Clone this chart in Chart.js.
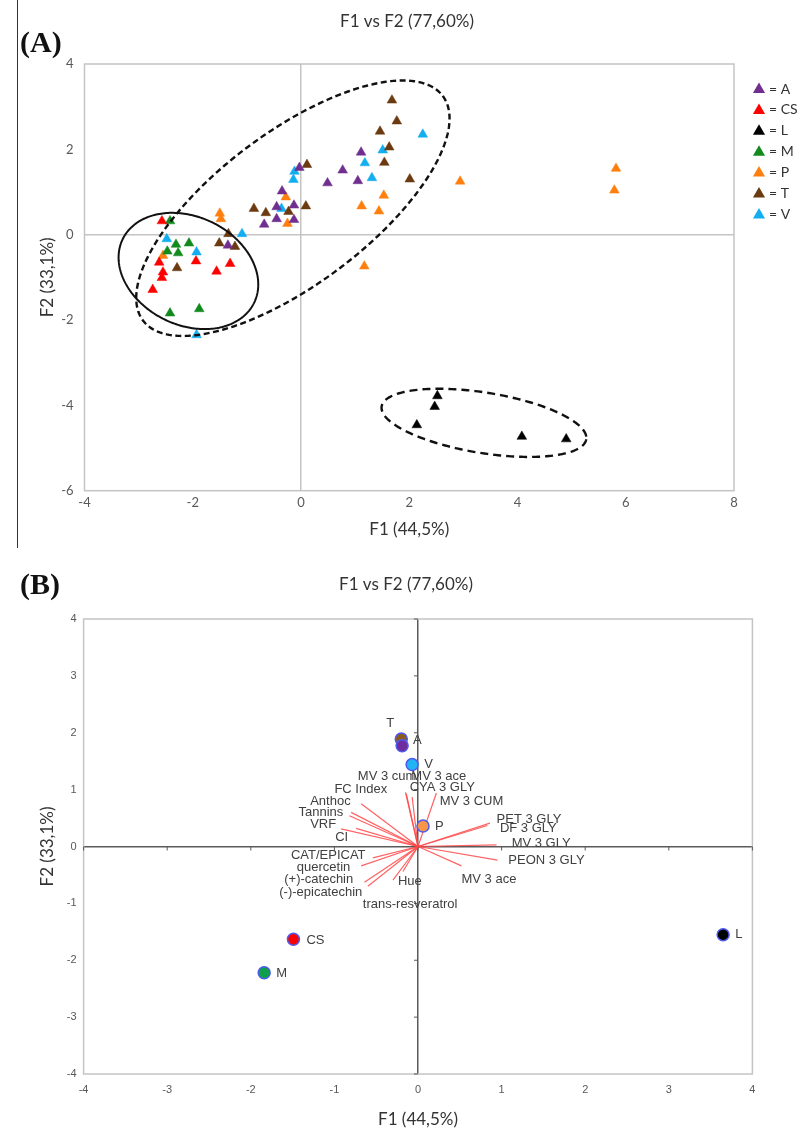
<!DOCTYPE html>
<html>
<head>
<meta charset="utf-8">
<script src="https://cdn.jsdelivr.net/npm/chart.js"></script>
<style>
  body { margin: 0; background: #fff; width: 803px; height: 1135px; position: relative; overflow: hidden; }
  #wrapA { position: absolute; left: 0; top: 0; width: 803px; height: 552px; }
  #wrapB { position: absolute; left: 0; top: 555px; width: 803px; height: 580px; }
  .tag { position: absolute; font-family: 'Liberation Serif', serif; font-weight: bold; font-size: 30px; color: #111; line-height: 34px; }
  #rule { position: absolute; left: 17px; top: 0; width: 1px; height: 548px; background: #333; }
</style>
</head>
<body>
<div id="rule"></div>
<div id="wrapA"><canvas id="scoresChart" width="803" height="552"></canvas></div>
<div id="wrapB"><canvas id="biplotChart" width="803" height="580"></canvas></div>
<div class="tag" style="left:20px; top:25px;">(A)</div>
<div class="tag" style="left:20px; top:567px;">(B)</div>

<script>
// Panel A: PCA scores of each wine sample, grouped by cultivar
const cultivars = ['A', 'CS', 'L', 'M', 'P', 'T', 'V'];
const scoresA = [[1.11, 1.93], [0.77, 1.51], [0.49, 1.21], [1.05, 1.26], [-0.03, 1.57], [-0.35, 1.02],
                 [-0.45, 0.65], [-0.13, 0.69], [-0.45, 0.37], [-0.13, 0.35], [-0.68, 0.24], [-1.35, -0.25]];
const scoresCS = [[-2.57, 0.32], [-2.62, -0.65], [-2.55, -0.88], [-2.57, -1.01], [-2.74, -1.29],
                  [-1.94, -0.62], [-1.56, -0.86], [-1.31, -0.68]];
const scoresL = [[2.52, -3.78], [2.47, -4.03], [2.14, -4.46], [4.08, -4.73], [4.90, -4.79]];
const scoresM = [[-2.42, 0.32], [-2.31, -0.23], [-2.07, -0.20], [-2.47, -0.39], [-2.27, -0.43],
                 [-2.42, -1.84], [-1.88, -1.74]];
const scoresP = [[-1.50, 0.50], [-1.48, 0.37], [-0.28, 0.88], [-0.25, 0.26], [1.12, 0.67], [1.53, 0.92],
                 [1.44, 0.55], [1.17, -0.74], [-2.55, -0.49], [2.94, 1.25], [5.82, 1.55], [5.79, 1.04]];
const scoresT = [[1.68, 3.15], [1.77, 2.66], [1.46, 2.42], [1.63, 2.05], [1.54, 1.69], [2.01, 1.30],
                 [0.11, 1.64], [0.09, 0.67], [-0.23, 0.54], [-0.87, 0.61], [-0.65, 0.51], [-1.34, 0.02],
                 [-1.51, -0.20], [-1.22, -0.28], [-2.29, -0.78]];
const scoresV = [[2.25, 2.35], [1.51, 1.98], [1.18, 1.68], [1.31, 1.33], [-0.12, 1.48], [-0.14, 1.29],
                 [-0.36, 0.61], [-1.09, 0.02], [-2.48, -0.10], [-1.93, -0.41], [-1.93, -2.35]];
const scoreSets = [scoresA, scoresCS, scoresL, scoresM, scoresP, scoresT, scoresV];

// Panel B: cultivar centroids and variable loadings
const centroidX = [-0.19, -1.49, 3.65, -1.84, 0.06, -0.20, -0.07];
const centroidY = [1.77, -1.63, -1.55, -2.22, 0.36, 1.89, 1.44];

const variables = ['MV 3 cum', 'MV 3 ace', 'FC Index', 'CYA 3 GLY', 'Anthoc', 'MV 3 CUM', 'Tannins', 'VRF',
                   'PET 3 GLY', 'DF 3 GLY', 'CI', 'MV 3 GLY', 'CAT/EPICAT', 'PEON 3 GLY', 'quercetin',
                   '(+)-catechin', 'Hue', 'MV 3 ace', '(-)-epicatechin', 'trans-resveratrol'];
const loadX = [-0.15, -0.14, -0.68, -0.07, -0.80, 0.22, -0.82, -0.92, 0.86, 0.83, -0.74, 0.94, -0.68, 0.95, -0.54,
               -0.64, -0.18, 0.52, -0.60, -0.30];
const loadY = [0.95, 0.93, 0.75, 0.87, 0.60, 0.94, 0.54, 0.31, 0.41, 0.37, 0.32, 0.03, -0.34, -0.24, -0.20,
               -0.63, -0.44, -0.34, -0.70, -0.59];

// Styling / layout (kept apart from the data)
const cultivarColors = ['#702F8F', '#FF0000', '#000000', '#138A1E', '#FF7F0E', '#6B3A10', '#12AEEF'];
const centroidColors = ['#6E2C9C', '#FF0000', '#000000', '#10A04A', '#F79646', '#8C5A1E', '#20B4F5'];
// group label offsets in px from each centroid marker
const centroidLabelOffset = [[11, -5], [13, 1], [12, 0], [12, 1], [12, 0], [-15, -16], [12, 0]];
// where each variable name sits (left edge, vertical middle), in axis units
const variableLabelAt = [[-0.72, 1.23], [-0.08, 1.23], [-1.00, 1.01], [-0.10, 1.03], [-1.29, 0.80], [0.26, 0.80],
                         [-1.43, 0.60], [-1.29, 0.39], [0.94, 0.47], [0.98, 0.31], [-0.99, 0.16], [1.12, 0.05],
                         [-1.52, -0.16], [1.08, -0.25], [-1.45, -0.37], [-1.60, -0.585], [-0.24, -0.615],
                         [0.52, -0.585], [-1.66, -0.81], [-0.66, -1.01]];
// ellipses drawn round the groups in panel A: centre and two conjugate semi-axes, in axis units
const groupEllipses = [
    { c: [-0.15, 0.62], u: [2.77, 2.63], v: [0.84, -1.43], dash: [6, 3.5], width: 2.4 },
    { c: [-2.08, -0.85], u: [1.22, -0.73], v: [-0.42, -1.15], dash: [], width: 2 },
    { c: [3.38, -4.41], u: [1.89, -0.385], v: [-0.088, -0.70], dash: [8, 5], width: 2.4 }
];

const calibri = 'Lato, "Open Sans", sans-serif';
const arial = '"Liberation Sans", Arial, sans-serif';

// plain box round the plot area
const framePlugin = {
    id: 'frame',
    beforeDatasetsDraw(chart, args, opts) {
        const { ctx, chartArea: a } = chart;
        ctx.save();
        ctx.strokeStyle = opts.color;
        ctx.lineWidth = opts.width;
        ctx.strokeRect(a.left, a.top, a.right - a.left, a.bottom - a.top);
        ctx.restore();
    }
};

// panel heading, centred on the page column rather than on the plot area
const headingPlugin = {
    id: 'heading',
    afterDraw(chart, args, opts) {
        const ctx = chart.ctx;
        ctx.save();
        ctx.font = '17px ' + calibri;
        ctx.fillStyle = '#333';
        ctx.textAlign = 'center';
        ctx.textBaseline = 'middle';
        ctx.fillText(opts.text, opts.x, opts.y);
        ctx.restore();
    }
};

const ellipsePlugin = {
    id: 'ellipses',
    afterDatasetsDraw(chart) {
        const { ctx, scales: { x, y } } = chart;
        groupEllipses.forEach(e => {
            ctx.save();
            ctx.beginPath();
            for (let i = 0; i <= 240; i++) {
                const t = i / 240 * Math.PI * 2;
                const vx = e.c[0] + e.u[0] * Math.cos(t) + e.v[0] * Math.sin(t);
                const vy = e.c[1] + e.u[1] * Math.cos(t) + e.v[1] * Math.sin(t);
                const px = x.getPixelForValue(vx), py = y.getPixelForValue(vy);
                if (i === 0) ctx.moveTo(px, py); else ctx.lineTo(px, py);
            }
            ctx.setLineDash(e.dash);
            ctx.lineWidth = e.width;
            ctx.strokeStyle = '#111';
            ctx.stroke();
            ctx.restore();
        });
    }
};

function triangle(ctx, x, y, r) {
    ctx.beginPath();
    ctx.moveTo(x, y - r);
    ctx.lineTo(x + 0.866 * r, y + 0.5 * r);
    ctx.lineTo(x - 0.866 * r, y + 0.5 * r);
    ctx.closePath();
    ctx.fill();
}

const triangleLegend = {
    id: 'triangleLegend',
    afterDraw(chart) {
        const ctx = chart.ctx;
        const x0 = chart.chartArea.right + 25;
        const y0 = chart.chartArea.top + 25;
        ctx.save();
        ctx.font = '14px ' + calibri;
        ctx.textBaseline = 'middle';
        cultivars.forEach((name, i) => {
            const cy = y0 + i * 20.9;
            ctx.fillStyle = cultivarColors[i];
            triangle(ctx, x0, cy + 0.5, 7);
            ctx.fillStyle = '#333';
            ctx.fillText('= ' + name, x0 + 10, cy);
        });
        ctx.restore();
    }
};

function zeroLineGrid(color) {
    return {
        drawTicks: false,
        lineWidth: 1.5,
        color: c => (c.tick && c.tick.value === 0 ? color : 'rgba(0,0,0,0)')
    };
}

// Chart A
new Chart(document.getElementById('scoresChart'), {
    type: 'scatter',
    data: {
        datasets: cultivars.map((name, i) => ({
            label: name,
            data: scoreSets[i].map(p => ({ x: p[0], y: p[1] })),
            pointStyle: 'triangle',
            pointRadius: 5.6,
            backgroundColor: cultivarColors[i],
            borderColor: cultivarColors[i],
            borderWidth: 0.5
        }))
    },
    options: {
        responsive: false,
        animation: false,
        layout: { padding: { left: 24, right: 69, top: 64, bottom: 0 } },
        plugins: {
            legend: { display: false },
            tooltip: { enabled: false },
            title: { display: false },
            heading: { text: 'F1 vs F2 (77,60%)', x: 407, y: 22 },
            frame: { color: '#C4C4C4', width: 1.5 }
        },
        scales: {
            x: {
                type: 'linear', min: -4, max: 8,
                afterFit: s => { s.height = 61.3; },
                border: { display: false },
                grid: zeroLineGrid('#C4C4C4'),
                ticks: { stepSize: 2, autoSkip: false, padding: 4.5, color: '#595959', font: { family: calibri, size: 13 } },
                title: { display: true, text: 'F1 (44,5%)', color: '#333', font: { family: calibri, size: 17 }, padding: { top: 0, bottom: 11.8 } }
            },
            y: {
                type: 'linear', min: -6, max: 4,
                afterFit: s => { s.width = 60.5; },
                border: { display: false },
                grid: zeroLineGrid('#C4C4C4'),
                ticks: { stepSize: 2, autoSkip: false, padding: 11, color: '#595959', font: { family: calibri, size: 13 } },
                title: { display: true, text: 'F2 (33,1%)', color: '#333', font: { family: calibri, size: 17 }, padding: { top: 13.8, bottom: 0 } }
            }
        }
    },
    plugins: [framePlugin, ellipsePlugin, triangleLegend, headingPlugin]
});

// Chart B: small tick marks on the axes through the origin, plus text labels
const originTicks = {
    id: 'originTicks',
    beforeDatasetsDraw(chart) {
        const { ctx, scales: { x, y } } = chart;
        const x0 = x.getPixelForValue(0), y0 = y.getPixelForValue(0);
        ctx.save();
        ctx.strokeStyle = '#595959';
        ctx.lineWidth = 1;
        ctx.beginPath();
        x.ticks.forEach(t => {
            const px = x.getPixelForValue(t.value);
            ctx.moveTo(px, y0);
            ctx.lineTo(px, y0 + 4);
        });
        y.ticks.forEach(t => {
            const py = y.getPixelForValue(t.value);
            ctx.moveTo(x0 - 4, py);
            ctx.lineTo(x0, py);
        });
        ctx.stroke();
        ctx.restore();
    }
};

const biplotLabels = {
    id: 'biplotLabels',
    afterDatasetsDraw(chart) {
        const { ctx, scales: { x, y } } = chart;
        ctx.save();
        ctx.font = '13px ' + arial;
        ctx.fillStyle = '#404040';
        ctx.textBaseline = 'middle';
        ctx.textAlign = 'left';
        variables.forEach((name, i) => {
            ctx.fillText(name, x.getPixelForValue(variableLabelAt[i][0]), y.getPixelForValue(variableLabelAt[i][1]));
        });
        cultivars.forEach((name, i) => {
            const px = x.getPixelForValue(centroidX[i]) + centroidLabelOffset[i][0];
            const py = y.getPixelForValue(centroidY[i]) + centroidLabelOffset[i][1];
            ctx.fillText(name, px, py);
        });
        ctx.restore();
    }
};

const vectorSets = variables.map((name, i) => ({
    label: name,
    data: [{ x: 0, y: 0 }, { x: loadX[i], y: loadY[i] }],
    showLine: true,
    pointRadius: 0,
    borderColor: 'rgba(255, 70, 70, 0.85)',
    borderWidth: 1.2,
    order: 10
}));

const centroidSets = cultivars.map((name, i) => ({
    label: name,
    data: [{ x: centroidX[i], y: centroidY[i] }],
    pointRadius: 6,
    backgroundColor: centroidColors[i],
    borderColor: '#4E5BF0',
    borderWidth: 1.5,
    order: name === 'T' ? 5 : 1
}));

new Chart(document.getElementById('biplotChart'), {
    type: 'scatter',
    data: { datasets: centroidSets.concat(vectorSets) },
    options: {
        responsive: false,
        animation: false,
        layout: { padding: { left: 24, right: 50.6, top: 64, bottom: 0 } },
        plugins: {
            legend: { display: false },
            tooltip: { enabled: false },
            title: { display: false },
            heading: { text: 'F1 vs F2 (77,60%)', x: 406, y: 30 },
            frame: { color: '#C4C4C4', width: 1.5 }
        },
        scales: {
            x: {
                type: 'linear', min: -4, max: 4,
                afterFit: s => { s.height = 61; },
                border: { display: false },
                grid: zeroLineGrid('#5A5A5A'),
                ticks: { stepSize: 1, autoSkip: false, padding: 9.4, color: '#595959', font: { family: arial, size: 11 } },
                title: { display: true, text: 'F1 (44,5%)', color: '#333', font: { family: calibri, size: 17 }, padding: { top: 0, bottom: 4.8 } }
            },
            y: {
                type: 'linear', min: -4, max: 4,
                afterFit: s => { s.width = 59.6; },
                border: { display: false },
                grid: zeroLineGrid('#5A5A5A'),
                ticks: { stepSize: 1, autoSkip: false, padding: 7, color: '#595959', font: { family: arial, size: 11 } },
                title: { display: true, text: 'F2 (33,1%)', color: '#333', font: { family: calibri, size: 17 }, padding: { top: 13.8, bottom: 0 } }
            }
        }
    },
    plugins: [framePlugin, originTicks, biplotLabels, headingPlugin]
});
</script>
</body>
</html>
